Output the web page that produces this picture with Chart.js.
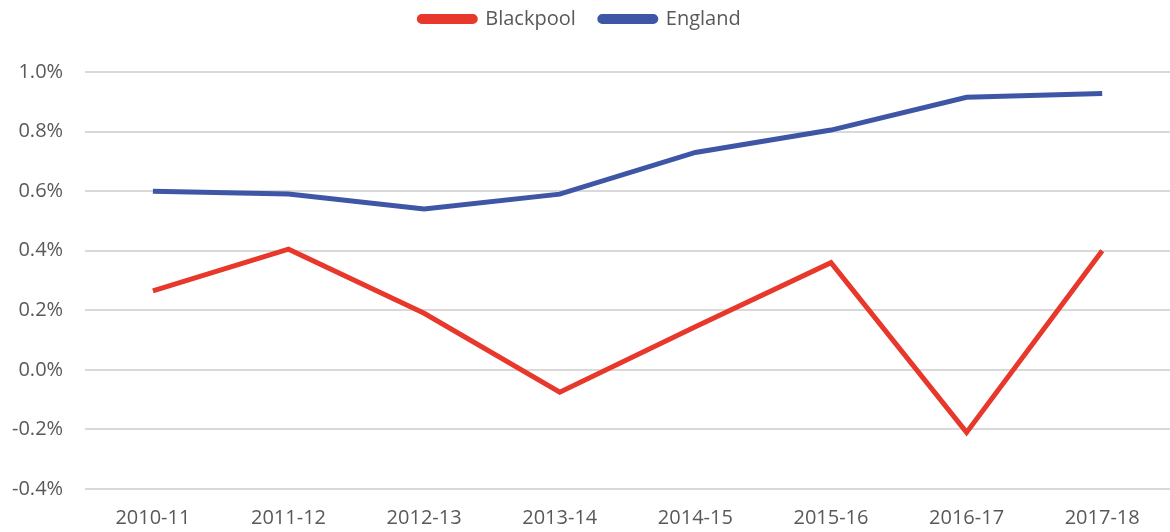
<!DOCTYPE html>
<html>
<head>
<meta charset="utf-8">
<script src="https://cdn.jsdelivr.net/npm/chart.js@4"></script>
<style>
  html, body { margin: 0; padding: 0; background: #fff; }
  #wrap { width: 1170px; height: 532px; }
</style>
</head>
<body>
<div id="wrap"><canvas id="chart" width="1170" height="532"></canvas></div>
<script>
// Categories (financial years)
const years = ['2010-11', '2011-12', '2012-13', '2013-14', '2014-15', '2015-16', '2016-17', '2017-18'];

// Series values, in percent
const blackpool = [0.265, 0.405, 0.19, -0.075, 0.145, 0.36, -0.21, 0.40];
const england = [0.60, 0.59, 0.54, 0.59, 0.73, 0.805, 0.915, 0.928];

const COLORS = {
    red: '#e8382b',
    blue: '#3f56a6',
    text: '#595959',
    grid: '#d9d9d9',
};

const FONT = 'Open Sans';
const TICK_SIZE = 20;

// push the plot area down below the legend
const legendSpacer = {
    id: 'legendSpacer',
    beforeInit(chart) {
        const fit = chart.legend.fit;
        chart.legend.fit = function () {
            fit.bind(chart.legend)();
            this.height += 33;
        };
    },
};

const ctx = document.getElementById('chart').getContext('2d');

new Chart(ctx, {
    type: 'line',
    data: {
        labels: years,
        datasets: [
            {
                label: 'Blackpool',
                data: blackpool,
                borderColor: COLORS.red,
                backgroundColor: COLORS.red,
                borderWidth: 5,
                pointRadius: 0,
                tension: 0,
            },
            {
                label: 'England',
                data: england,
                borderColor: COLORS.blue,
                backgroundColor: COLORS.blue,
                borderWidth: 5,
                pointRadius: 0,
                tension: 0,
            },
        ],
    },
    plugins: [legendSpacer],
    options: {
        responsive: false,
        animation: false,
        layout: { padding: { left: -10, right: 0, top: -15, bottom: -7 } },
        plugins: {
            legend: {
                position: 'top',
                labels: {
                    boxWidth: 56,
                    boxHeight: 5,
                    useBorderRadius: true,
                    borderRadius: 2.5,
                    padding: 24,
                    color: COLORS.text,
                    font: { family: FONT, size: TICK_SIZE },
                },
            },
            tooltip: { enabled: false },
        },
        scales: {
            x: {
                offset: true,
                grid: { display: false },
                border: { display: false },
                ticks: {
                    color: COLORS.text,
                    font: { family: FONT, size: TICK_SIZE },
                    padding: 9,
                    maxRotation: 0,
                },
            },
            y: {
                min: -0.4,
                max: 1.0,
                grid: { color: COLORS.grid, lineWidth: 2, drawTicks: false },
                border: { display: false },
                ticks: {
                    stepSize: 0.2,
                    color: COLORS.text,
                    font: { family: FONT, size: TICK_SIZE },
                    padding: 22,
                    callback: (v) => (Math.abs(v) < 1e-9 ? 0 : v).toFixed(1) + '%',
                },
            },
        },
    },
});
</script>
</body>
</html>
